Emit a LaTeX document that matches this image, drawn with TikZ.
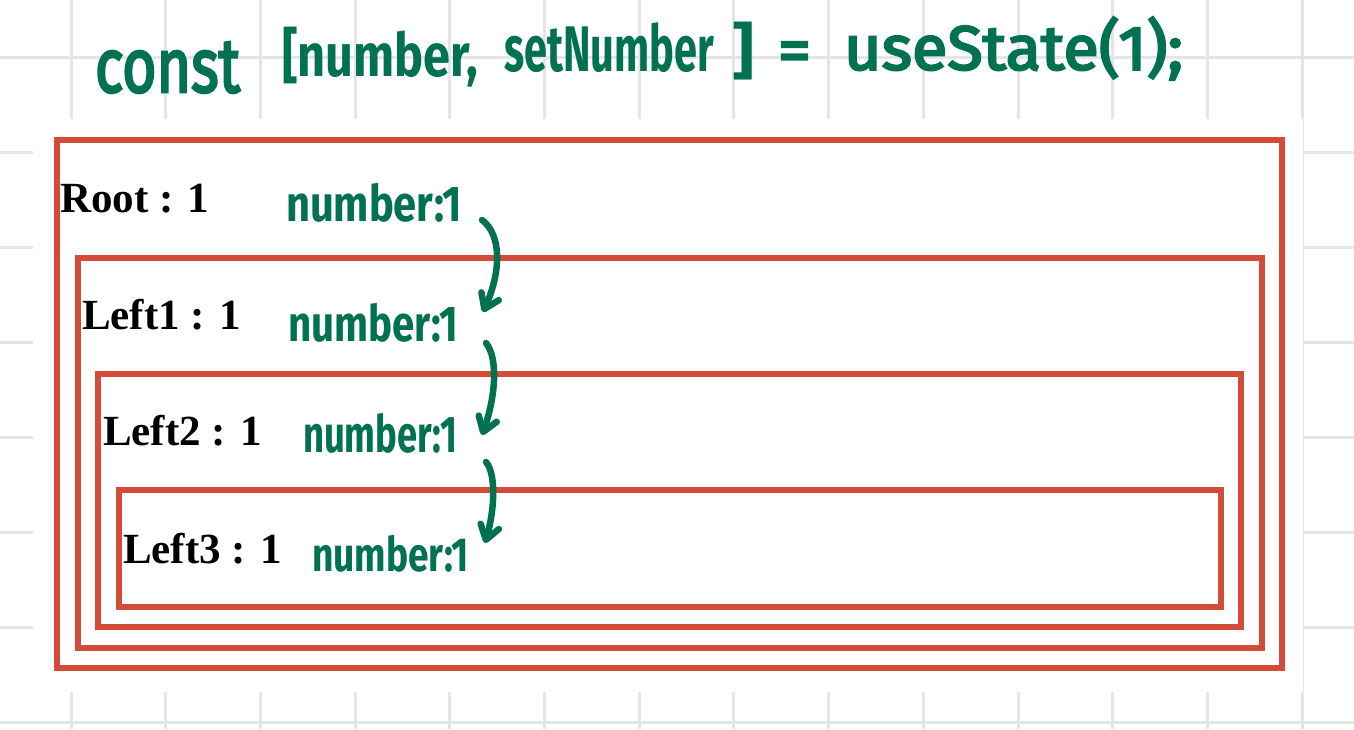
\documentclass[tikz,border=0pt]{standalone}
\usepackage{fontspec}
\usepackage{graphicx}
\usetikzlibrary{arrows.meta}
\newfontfamily\labfont{Liberation Serif}
\newfontfamily\handfont{Fira Sans}
\newfontfamily\handlight{Fira Sans}[FakeBold=3.5]
\definecolor{boxred}{RGB}{211,75,57}
\definecolor{handgreen}{RGB}{0,114,82}
\definecolor{gridgray}{RGB}{229,229,229}
\begin{document}
\begin{tikzpicture}[x=1pt,y=-1pt,
  gridline/.style={draw=gridgray, line width=3pt},
  redbox/.style={draw=boxred, line width=6.5pt},
  lab/.style={inner sep=0pt, outer sep=0pt, anchor=base west, font=\labfont\bfseries\fontsize{43}{43}\selectfont, text=black},
  handtext/.style={inner sep=0pt, outer sep=0pt, anchor=south west, font=\handfont\bfseries, text=handgreen},
  handwide/.style={inner sep=0pt, outer sep=0pt, anchor=south west, font=\handlight, text=handgreen},
  flow/.style={draw=handgreen, line width=6.5pt, line cap=round, -{Straight Barb[length=14pt,width=19pt,round]}}
]
\useasboundingbox (0,0) rectangle (1354,729);
\fill[white] (0,0) rectangle (1354,729);
% grid
\foreach \i in {0,...,13} \draw[gridline] ({71+94.7*\i},0) -- ({71+94.7*\i},729);
\foreach \j in {0,...,7} \draw[gridline] (0,{57+95*\j}) -- (1354,{57+95*\j});
% white panel
\fill[white] (33,119) rectangle (1303,692);
% nested red boxes
\draw[redbox] (57,140) rectangle (1282,668);
\draw[redbox] (78,258) rectangle (1262,648);
\draw[redbox] (98,374) rectangle (1241,627);
\draw[redbox] (119,490) rectangle (1221,607);
% top line
\node[handwide] (c1) at (95,93) {\resizebox*{145pt}{51pt}{const}};
\node[handtext] (c2) at (282,87) {\resizebox*{196pt}{60pt}{[number,}};
\node[handtext] (c3) at (504,73) {\resizebox*{210pt}{50pt}{setNumber}};
\node[handtext] (c4) at (732,80) {\resizebox*{22pt}{58pt}{]}};
\node[handwide] (c5) at (778,72) {\resizebox*{33pt}{30pt}{=}};
\node[handwide] (c6) at (844,80) {\resizebox*{339pt}{63pt}{useState(1);}};
% component labels
\node[lab] (r)  at (60,212)  {Root : 1};
\node[lab] (l1) at (82,329)  {Left1 : 1};
\node[lab] (l2) at (103,445) {Left2 : 1};
\node[lab] (l3) at (123,563) {Left3 : 1};
% state labels
\node[handtext] (n0) at (286,222) {\resizebox*{176pt}{39pt}{number:1}};
\node[handtext] (n1) at (288,342) {\resizebox*{170pt}{39pt}{number:1}};
\node[handtext] (n2) at (303,453) {\resizebox*{154pt}{40pt}{number:1}};
\node[handtext] (n3) at (312,572) {\resizebox*{157pt}{37pt}{number:1}};
% arrows
\draw[flow] ([shift={(20,-2)}]n0.south east) .. controls +(20,15) and +(18,-40) .. ([shift={(25,9)}]n1.north east);
\draw[flow] ([shift={(28,1)}]n1.south east) .. controls +(12,15) and +(14,-40) .. ([shift={(25,22)}]n2.north east);
\draw[flow] ([shift={(29,9)}]n2.south east) .. controls +(10,12) and +(10,-35) .. ([shift={(16,8)}]n3.north east);
\end{tikzpicture}
\end{document}
